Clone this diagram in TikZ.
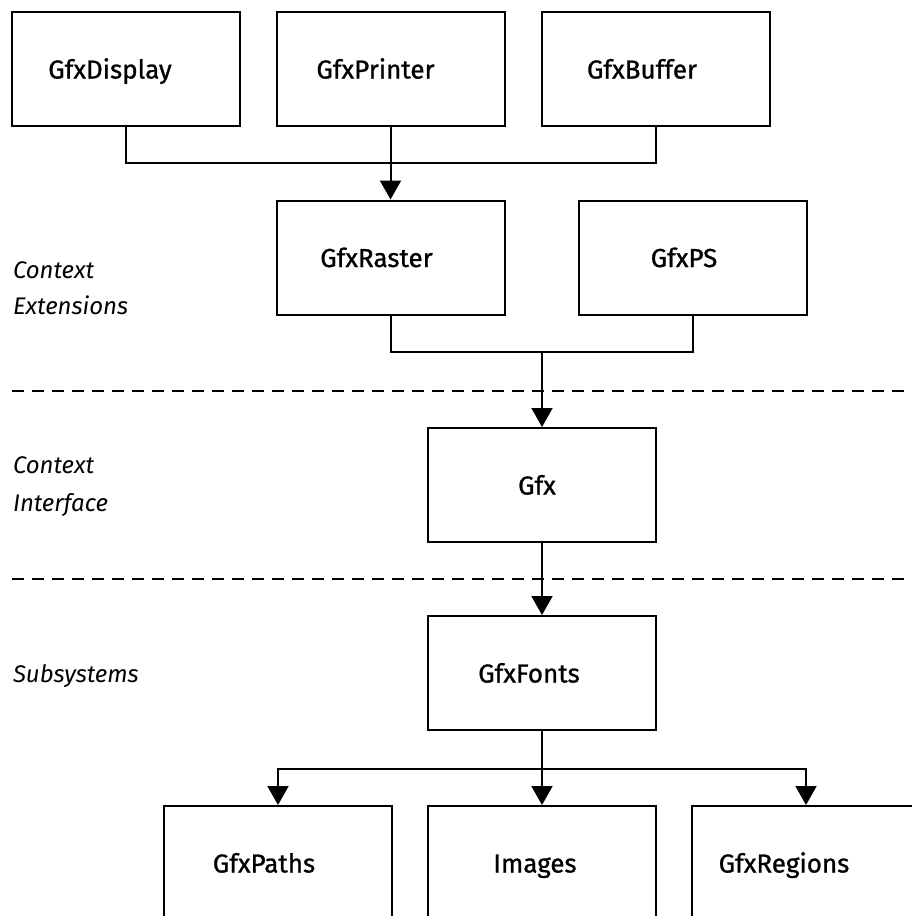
\documentclass[tikz,border=0pt]{standalone}
\usepackage{fontspec}
\setmainfont{Fira Sans}
\newfontfamily\boxfont{Fira Sans}[FakeBold=1]
\usetikzlibrary{arrows.meta}
\begin{document}
\begin{tikzpicture}[x=1pt,y=-1pt,line width=2pt,
  box/.style={draw, minimum width=228pt, minimum height=114pt, inner sep=0pt},
  lab/.style={font=\boxfont\fontsize{26}{30}\selectfont, text height=19pt, text depth=0pt, inner sep=0pt},
  side/.style={anchor=base west, font=\itshape\fontsize{24}{28}\selectfont, inner sep=0pt},
  arr/.style={-{Triangle[width=21pt,length=19pt]}},
  sep/.style={dash pattern=on 12pt off 8pt, line width=2pt}]
\useasboundingbox (0,0) rectangle (912,916);
\clip (0,0) rectangle (912,916);
% boxes
\node[box, label={[lab,xshift=-16pt]center:GfxDisplay}] (disp) at (126,69) {};
\node[box, label={[lab,xshift=-15pt]center:GfxPrinter}] (prn) at (390.5,69) {};
\node[box, label={[lab,xshift=-13.5pt]center:GfxBuffer}] (buf) at (655.5,69) {};
\node[box, label={[lab,xshift=-14pt]center:GfxRaster}] (raster) at (390.5,257.5) {};
\node[box, label={[lab,xshift=-9pt]center:GfxPS}] (ps) at (693,257.5) {};
\node[box, label={[lab,xshift=-5pt]center:Gfx}] (gfx) at (542,485) {};
\node[box, label={[lab,xshift=-13pt]center:GfxFonts}] (fonts) at (542,673) {};
\node[box, label={[lab,xshift=-14pt]center:GfxPaths}] (paths) at (278,863) {};
\node[box, label={[lab,xshift=-7pt]center:Images}] (images) at (542,863) {};
\node[box, label={[lab,xshift=-22pt]center:GfxRegions}] (regions) at (806,863) {};
% side labels
\node[side] (ce1) at (12,278) {Context};
\node[side] (ce2) at (12,314) {Extensions};
\node[side] (ci1) at (12,473) {Context};
\node[side] (ci2) at (12,511) {Interface};
\node[side] (sub) at (12,682) {Subsystems};
% separators
\coordinate (d1l) at (12,391); \coordinate (d1r) at (912,391);
\coordinate (d2l) at (12,579); \coordinate (d2r) at (912,579);
\draw[sep] (d1l) -- (d1r);
\draw[sep] (d2l) -- (d2r);
% connectors
\coordinate (b1) at (390.5,163);
\draw (disp.south) |- (b1) -| (buf.south);
\draw[arr] (prn.south) -- (raster.north);
\coordinate (b2) at (542,352);
\draw (raster.south) |- (b2) -| (ps.south);
\draw[arr] (b2) -- (gfx.north);
\draw[arr] (gfx.south) -- (fonts.north);
\coordinate (b3) at (542,769);
\draw (fonts.south) -- (b3);
\draw[arr] (b3) -| (paths.north);
\draw[arr] (b3) -| (regions.north);
\draw[arr] (b3) -- (images.north);
\end{tikzpicture}
\end{document}
